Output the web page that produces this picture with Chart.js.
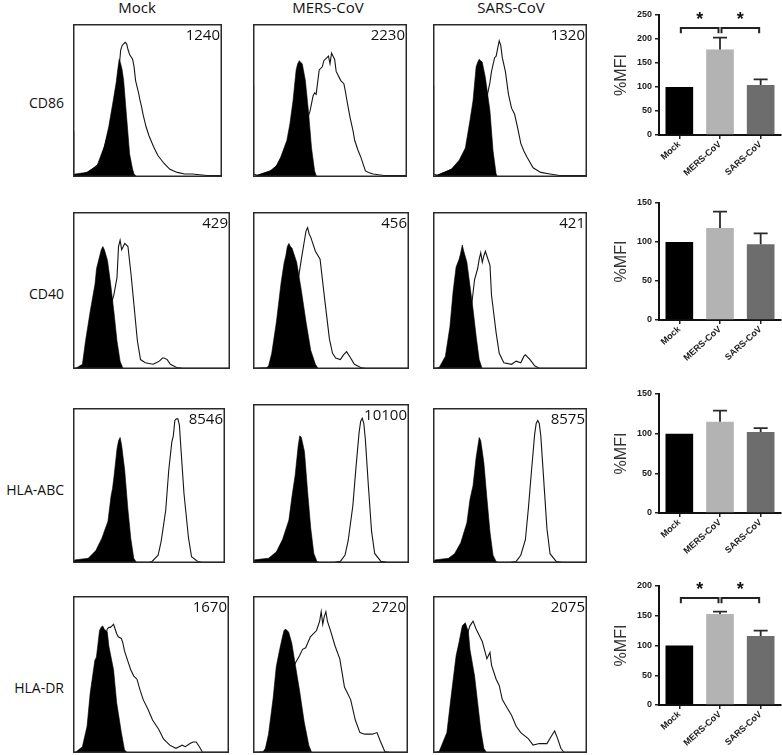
<!DOCTYPE html>
<html><head><meta charset="utf-8">
<script src="https://cdn.jsdelivr.net/npm/chart.js@4/dist/chart.umd.min.js"></script>
<style>
body{margin:0;background:#fff;}
#root{position:relative;width:782px;height:755px;overflow:hidden;background:#fff;font-family:'Open Sans',sans-serif;color:#111;}
#root canvas{position:absolute;}
.t{position:absolute;white-space:nowrap;font-size:15px;line-height:15px;}
.c{transform:translateX(-50%);}
.r{text-align:right;}
.rl{font-size:14px;line-height:14px;transform:translateX(-100%);}
</style></head><body>
<div id="root"></div>
<script>
// ---------- DATA ----------
const groups = ['Mock', 'MERS-CoV', 'SARS-CoV'];
const markers = ['CD86', 'CD40', 'HLA-ABC', 'HLA-DR'];

// MFI numbers printed in the histogram panels
const mfiCD86 = [1240, 2230, 1320];
const mfiCD40 = [429, 456, 421];
const mfiHLAABC = [8546, 10100, 8575];
const mfiHLADR = [1670, 2720, 2075];

// %MFI bar values and upper end of error bars
const pctCD86 = [100, 178, 104];
const pctCD40 = [100, 118, 97];
const pctHLAABC = [100, 115, 102];
const pctHLADR = [100, 153, 116];
const errTopCD86 = [null, 203, 116];
const errTopCD40 = [null, 139, 111];
const errTopHLAABC = [null, 129, 107];
const errTopHLADR = [null, 157, 125];
const yMaxPct = [250, 150, 150, 200];
const yStepPct = 50;
// significance brackets: [fromIndex, toIndex, bracket level, leg end level]
const sigCD86 = [[0, 1, 223, 212], [1, 2, 223, 212]];
const sigCD40 = [];
const sigHLAABC = [];
const sigHLADR = [[0, 1, 180, 171], [1, 2, 180, 171]];

// Histograms: [fluorescence position (% of axis), cell count (% of axis)]
// filled = isotype control, open = stained
const isoCD86Mock = [[0,0],[1.5,2],[9,3],[16,7],[21,20],[24,33],[27,50],[29,62],[30,70],[31,77],[32,74],[33,70],[34,63],[36,39],[38,15],[40,5],[41,2],[43,0]];
const stainCD86Mock = [[0,30],[0.5,2],[2,1],[10,3],[18,9],[25,33],[28,48],[30,59],[31,72],[32,83],[33,86],[34,87],[35,88],[36,87],[37,83],[38,80],[40,77],[41,72],[42,63],[44,55],[45,50],[46,46],[47,41],[49,33],[51,27],[54,20],[57,14],[61,9],[65,5],[70,3],[75,2],[80,2],[90,1],[100,1]];
const isoCD86MERS = [[0,0],[2,1],[11,4],[15,7],[18,13],[22,24],[24,35],[26,50],[28,70],[29,74],[30,76],[31,75],[32,74],[34,63],[36,43],[38,19],[40,4],[41,1],[42,0]];
const stainCD86MERS = [[0,60],[0.4,2],[3,1],[12,4],[20,12],[30,30],[36,40],[37,43],[38,48],[39,53],[40,55],[41,54],[42,62],[43,70],[45,72],[46,76],[47,77],[48,78],[49,79],[50,74],[51,81],[52,79],[53,77],[54,69],[55,67],[57,63],[59,61],[60,56],[61,50],[63,39],[65,30],[66,24],[68,18],[70,13],[73,4],[75,3],[78,2],[85,1],[100,1]];
const isoCD86SARS = [[0,0],[2,1],[12,5],[17,11],[21,19],[24,37],[26,50],[28,72],[29,75],[30,77],[31,76],[32,75],[34,65],[37,43],[39,17],[41,2],[42,0]];
const stainCD86SARS = [[0,60],[0.4,2],[3,1],[12,5],[22,15],[32,40],[35,52],[37,62],[38,69],[40,78],[41,79],[42,84],[43,89],[44,86],[45,78],[47,69],[49,54],[51,45],[53,41],[55,32],[57,22],[59,17],[61,13],[65,6],[70,3],[76,2],[82,1],[100,1]];

const isoCD40Mock = [[0,0],[1,0],[6,3],[8,18],[11,37],[14,54],[15,64],[17,72],[18,76],[19,78],[20,76],[22,69],[24,54],[26,37],[28,18],[30,5],[32,0]];
const stainCD40Mock = [[0,0.5],[10,1],[18,20],[24,40],[26,47],[28,58],[29,78],[30,82],[31,76],[32,78],[33,80],[35,78],[37,60],[39,39],[41,18],[43,6],[46,4],[51,3],[53,4],[55,5],[57,7],[58,7],[60,6],[62,3],[66,1],[70,0.5],[100,0.5]];
const isoCD40MERS = [[0,0],[8,0],[10,2],[12,10],[15,30],[18,55],[20,68],[21,72],[22,78],[23,80],[24,78],[25,77],[28,68],[31,50],[34,30],[37,12],[40,3],[42,0]];
const stainCD40MERS = [[0,0.5],[10,1],[20,10],[26,40],[29,57],[31,70],[33,82],[34,88],[35,90],[36,86],[37,84],[38,81],[40,75],[43,70],[46,44],[49,19],[51,10],[53,7],[56,6],[58,9],[60,11],[62,8],[65,3],[69,1],[72,0.5],[100,0.5]];
const isoCD40SARS = [[0,0],[4,1],[8,8],[11,27],[13,49],[15,65],[17,70],[18,74],[19,79],[20,75],[22,68],[24,53],[26,38],[28,21],[30,6],[32,0]];
const stainCD40SARS = [[0,0.5],[10,1],[18,20],[24,37],[25,40],[27,57],[29,64],[30,70],[31,74],[32,68],[33,72],[34,75],[35,72],[37,66],[38,47],[41,23],[43,10],[46,4],[51,3],[54,5],[57,4],[59,8],[60,9],[63,6],[66,2],[69,0.5],[100,0.5]];

const isoHLAABCMock = [[0,0],[1,2],[10,3],[15,8],[19,16],[23,27],[25,43],[26,48],[27,56],[29,74],[30,79],[31,81],[32,76],[34,60],[36,36],[38,16],[40,3],[42,0]];
const stainHLAABCMock = [[0,0.5],[50,0.5],[52,1],[56,5],[58,14],[61,34],[63,60],[65,78],[66,82],[67,92],[68,93],[69,93],[70,89],[71,74],[73,45],[76,16],[78,4],[82,1],[85,0.5],[100,0.5]];
const isoHLAABCMERS = [[0,0],[1,2],[10,3],[15,7],[19,15],[23,27],[25,42],[27,55],[29,74],[30,80],[31,79],[33,70],[35,45],[37,22],[39,6],[41,1],[43,0]];
const stainHLAABCMERS = [[0,0.5],[52,0.5],[56,1],[59,5],[61,14],[64,36],[66,60],[68,82],[69,89],[70,91],[71,88],[72,78],[74,48],[76,20],[78,6],[82,1],[86,0.5],[100,0.5]];
const isoHLAABCSARS = [[0,0],[1,2],[10,3],[14,6],[18,13],[22,26],[24,41],[26,50],[28,68],[30,81],[31,79],[33,65],[35,42],[37,20],[39,5],[41,1],[43,0]];
const stainHLAABCSARS = [[0,0.5],[50,0.5],[54,1],[57,5],[60,15],[62,36],[64,60],[66,83],[67,90],[68,92],[69,90],[70,82],[72,52],[74,22],[76,6],[80,1],[84,0.5],[100,0.5]];

const isoHLADRMock = [[0,0],[1,0],[6,4],[9,17],[11,38],[14,59],[15,61],[17,78],[18,80],[19,81],[20,79],[22,77],[23,68],[26,53],[28,32],[31,13],[33,2],[35,0]];
const stainHLADRMock = [[0,0.5],[10,1],[18,40],[21,75],[22,79],[23,80],[24,80],[25,81],[26,82],[27,79],[28,76],[29,74],[31,73],[32,70],[33,65],[35,59],[37,53],[39,49],[41,47],[43,40],[45,34],[48,28],[51,21],[55,15],[58,9],[62,5],[66,3],[68,4],[70,5],[72,4],[75,6],[77,7],[79,7],[81,4],[83,0.5],[100,0.5]];
const isoHLADRMERS = [[0,0],[6,0],[8,3],[10,12],[13,35],[15,55],[17,65],[19,74],[20,78],[21,79],[23,77],[25,70],[27,58],[30,40],[33,20],[36,5],[38,0]];
const stainHLADRMERS = [[0,0.5],[10,1],[20,40],[26,55],[30,62],[32,66],[34,67],[37,74],[41,78],[43,84],[44,90],[45,82],[46,87],[47,90],[48,84],[50,78],[53,68],[56,60],[58,48],[59,42],[63,34],[66,21],[69,13],[72,12],[77,12],[80,13],[82,8],[85,1],[88,0.5],[100,0.5]];
const isoHLADRSARS = [[0,0],[4,1],[9,13],[12,38],[15,62],[17,71],[19,81],[21,83],[23,77],[24,66],[27,49],[29,32],[31,15],[33,3],[35,0]];
const stainHLADRSARS = [[0,0.5],[10,1],[18,50],[22,75],[24,81],[26,84],[28,79],[30,75],[32,71],[35,60],[37,64],[38,56],[41,47],[43,43],[45,34],[48,29],[51,24],[54,17],[57,13],[62,9],[65,5],[69,6],[74,6],[77,11],[79,14],[81,9],[83,3],[85,0.5],[100,0.5]];

// ---------- ASSEMBLY ----------
const rowsData = [
  {mfi: mfiCD86, iso: [isoCD86Mock, isoCD86MERS, isoCD86SARS], stain: [stainCD86Mock, stainCD86MERS, stainCD86SARS], pct: pctCD86, err: errTopCD86, sig: sigCD86},
  {mfi: mfiCD40, iso: [isoCD40Mock, isoCD40MERS, isoCD40SARS], stain: [stainCD40Mock, stainCD40MERS, stainCD40SARS], pct: pctCD40, err: errTopCD40, sig: sigCD40},
  {mfi: mfiHLAABC, iso: [isoHLAABCMock, isoHLAABCMERS, isoHLAABCSARS], stain: [stainHLAABCMock, stainHLAABCMERS, stainHLAABCSARS], pct: pctHLAABC, err: errTopHLAABC, sig: sigHLAABC},
  {mfi: mfiHLADR, iso: [isoHLADRMock, isoHLADRMERS, isoHLADRSARS], stain: [stainHLADRMock, stainHLADRMERS, stainHLADRSARS], pct: pctHLADR, err: errTopHLADR, sig: sigHLADR}
];

// ---------- LAYOUT (positions only) ----------
const colLeft = [73, 253, 433];
const rowBox = [
  {top: [24, 24, 24], h: [153, 153, 153], w: [149, 154, 154]},
  {top: [212, 212, 212], h: [157, 157, 157], w: [157, 156, 154]},
  {top: [408, 404, 408], h: [155, 159, 155], w: [152, 156, 154]},
  {top: [596, 596, 596], h: [157, 157, 157], w: [156, 155, 154]}
];
const rowLabelY = [103, 294, 490, 688];
const headerX = [137, 328, 511];
const barBox = [
  {top: 0, h: 190, padTop: 15, xH: 55},
  {top: 190, h: 190, padTop: 13, xH: 60},
  {top: 380, h: 190, padTop: 14, xH: 57},
  {top: 570, h: 185, padTop: 16, xH: 50}
];
const barColors = ['#000000', '#b3b3b3', '#6d6d6d'];

const root = document.getElementById('root');
function addText(txt, x, y, cls) {
  const d = document.createElement('div');
  d.className = 't ' + (cls || '');
  d.textContent = txt;
  d.style.left = x + 'px';
  d.style.top = y + 'px';
  root.appendChild(d);
  return d;
}
function addCanvas(x, y, w, h) {
  const c = document.createElement('canvas');
  c.width = w; c.height = h;
  c.style.left = x + 'px'; c.style.top = y + 'px';
  c.style.width = w + 'px'; c.style.height = h + 'px';
  root.appendChild(c);
  return c;
}

// Headers and row labels
groups.forEach((g, i) => addText(g, headerX[i], 0, 'c'));
markers.forEach((m, r) => addText(m, 64, rowLabelY[r] - 7, 'rl'));

const boxPlugin = {
  id: 'box',
  afterDraw(chart) {
    const a = chart.chartArea, c = chart.ctx;
    c.save();
    c.strokeStyle = '#2a2a2a';
    c.lineWidth = 1.5;
    c.strokeRect(a.left + 0.75, a.top + 0.75, a.right - a.left - 1.5, a.bottom - a.top - 1.5);
    c.restore();
  }
};

const toXY = arr => arr.map(p => ({x: p[0], y: p[1]}));

rowsData.forEach((row, r) => {
  const rb = rowBox[r];
  for (let k = 0; k < 3; k++) {
    const x = colLeft[k], y = rb.top[k], w = rb.w[k], h = rb.h[k];
    const cv = addCanvas(x, y, w, h);
    new Chart(cv, {
      type: 'line',
      data: {
        datasets: [
          {data: toXY(row.iso[k]), fill: 'origin', backgroundColor: '#000', borderColor: '#000', borderWidth: 0.6, pointRadius: 0, tension: 0, order: 0},
          {data: toXY(row.stain[k]), fill: false, borderColor: '#151515', borderWidth: 1.1, pointRadius: 0, tension: 0, order: 1}
        ]
      },
      options: {
        responsive: false, animation: false, devicePixelRatio: 1,
        layout: {padding: 0},
        plugins: {legend: {display: false}, tooltip: {enabled: false}},
        scales: {
          x: {type: 'linear', min: 0, max: 100, display: false},
          y: {type: 'linear', min: 0, max: 100, display: false}
        }
      },
      plugins: [boxPlugin]
    });
    const lbl = addText(String(row.mfi[k]), 0, y + 3, 'r');
    lbl.style.left = 'auto';
    lbl.style.right = (782 - (x + w) + 2) + 'px';
  }
});

// Bar charts
const extrasPlugin = {
  id: 'extras',
  afterDatasetsDraw(chart, args, opts) {
    const c = chart.ctx, xs = chart.scales.x, ys = chart.scales.y;
    c.save();
    c.strokeStyle = '#2b2b2b';
    c.lineWidth = 1.8;
    opts.err.forEach((t, i) => {
      if (t == null) return;
      const px = xs.getPixelForValue(i);
      const yb = ys.getPixelForValue(opts.vals[i]);
      const yt = ys.getPixelForValue(t);
      c.beginPath();
      c.moveTo(px, yb); c.lineTo(px, yt);
      c.moveTo(px - 7, yt); c.lineTo(px + 7, yt);
      c.stroke();
    });
    c.strokeStyle = '#222';
    c.lineWidth = 2;
    c.fillStyle = '#111';
    c.font = 'bold 18px "Liberation Sans", Arial, sans-serif';
    c.textAlign = 'center';
    c.textBaseline = 'alphabetic';
    opts.sig.forEach(s => {
      const x1 = xs.getPixelForValue(s[0]) + 1.5;
      const x2 = xs.getPixelForValue(s[1]) - 1.5;
      const yl = ys.getPixelForValue(s[2]);
      const yg = ys.getPixelForValue(s[3]);
      c.beginPath();
      c.moveTo(x1, yg); c.lineTo(x1, yl); c.lineTo(x2, yl); c.lineTo(x2, yg);
      c.stroke();
      c.fillText('*', (x1 + x2) / 2, yl - 3);
    });
    c.restore();
  }
};

rowsData.forEach((row, r) => {
  const bb = barBox[r];
  const cv = addCanvas(600, bb.top, 182, bb.h);
  new Chart(cv, {
    type: 'bar',
    data: {
      labels: groups,
      datasets: [{data: row.pct, backgroundColor: barColors, barPercentage: 0.68, categoryPercentage: 1, borderWidth: 0}]
    },
    options: {
      responsive: false, animation: false, devicePixelRatio: 1,
      layout: {padding: {top: bb.padTop, right: 1, left: 0, bottom: 0}},
      plugins: {legend: {display: false}, tooltip: {enabled: false},
        extras: {vals: row.pct, err: row.err, sig: row.sig}},
      scales: {
        x: {
          grid: {display: true, drawOnChartArea: false, offset: false, tickLength: 4, color: '#222', lineWidth: 1.5},
          border: {display: true, color: '#111', width: 2},
          ticks: {font: {family: '"Liberation Sans", Arial, sans-serif', size: 9, weight: 'bold'}, color: '#1a1a1a', maxRotation: 42, minRotation: 42, padding: 0, autoSkip: false},
          afterFit(s) { s.height = bb.xH; }
        },
        y: {
          min: 0, max: yMaxPct[r],
          ticks: {stepSize: yStepPct, font: {family: '"Liberation Sans", Arial, sans-serif', size: 9, weight: 'bold'}, color: '#1a1a1a', padding: 3},
          grid: {display: true, drawOnChartArea: false, tickLength: 4, color: '#222', lineWidth: 1.5},
          border: {display: true, color: '#111', width: 2},
          title: {display: true, text: '%MFI', font: {family: '"Liberation Sans", Arial, sans-serif', size: 16}, color: '#333', padding: {top: 12, bottom: 0}},
          afterFit(s) { s.width = 59; }
        }
      }
    },
    plugins: [extrasPlugin]
  });
});
</script>
</body></html>
